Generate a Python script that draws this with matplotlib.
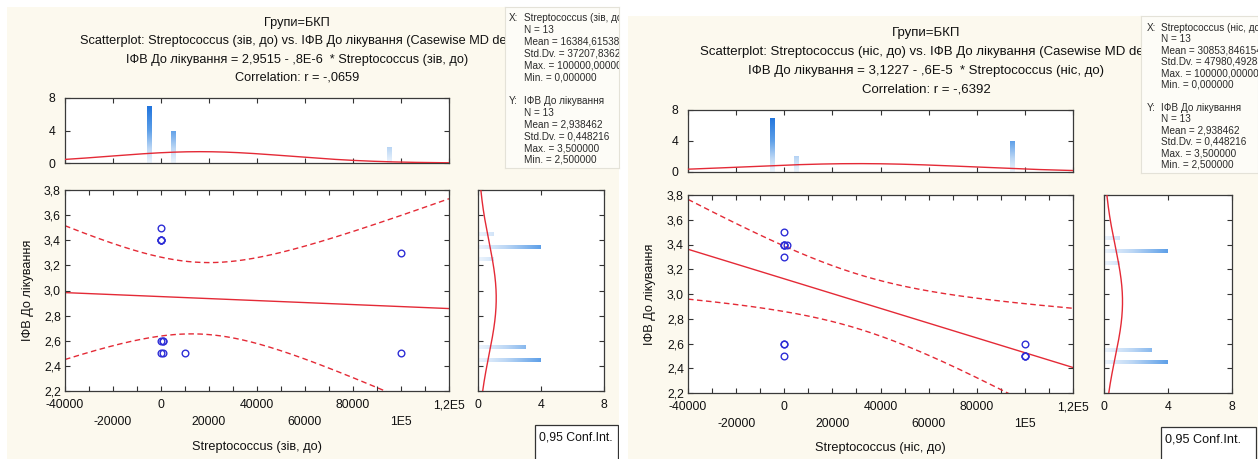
import numpy as np
import matplotlib
matplotlib.use("Agg")
import matplotlib.pyplot as plt
from matplotlib.colors import LinearSegmentedColormap
from matplotlib.ticker import FixedLocator, MultipleLocator, FuncFormatter, NullFormatter
from matplotlib.transforms import Affine2D
from matplotlib.patches import Rectangle

# ---------------- data ----------------
group_title = "Групи=БКП"
x_names = ["Streptococcus (зів, до)", "Streptococcus (ніс, до)"]
y_name = "ІФВ До лікування"
y_name_stats = "ІФВ До лікування"
scatter_titles = [
    "Scatterplot: Streptococcus (зів, до) vs. ІФВ До лікування (Casewise MD deletion)",
    "Scatterplot: Streptococcus (ніс, до) vs. ІФВ До лікування (Casewise MD deletion)",
]
equations = [
    "ІФВ До лікування = 2,9515 - ,8E-6  * Streptococcus (зів, до)",
    "ІФВ До лікування = 3,1227 - ,6E-5  * Streptococcus (ніс, до)",
]
correlations = ["Correlation: r = -,0659", "Correlation: r = -,6392"]

x_left = [0, 0, 0, 0, 0, 0, 0, 1000, 1000, 1000, 10000, 100000, 100000]
y_left = [3.5, 3.4, 3.4, 3.4, 3.4, 2.6, 2.5, 2.6, 2.6, 2.5, 2.5, 3.3, 2.5]
x_right = [0, 0, 0, 0, 0, 0, 0, 100, 1000, 100000, 100000, 100000, 100000]
y_right = [3.5, 3.4, 3.4, 3.4, 3.3, 2.6, 2.6, 2.5, 3.4, 2.6, 2.5, 2.5, 2.5]

xhist_centers = [-5000, 5000, 95000]
xhist_counts_left = [7, 4, 2]
xhist_counts_right = [7, 2, 4]
yhist_centers = [2.45, 2.55, 3.25, 3.35, 3.45]
yhist_counts = [4, 3, 1, 4, 1]

x_row1_ticks = [-40000, 0, 40000, 80000, 120000]
x_row1_labels = ["-40000", "0", "40000", "80000", "1,2E5"]
x_row2_ticks = [-20000, 20000, 60000, 100000]
x_row2_labels = ["-20000", "20000", "60000", "1E5"]
y_ticks = [2.2, 2.4, 2.6, 2.8, 3.0, 3.2, 3.4, 3.6, 3.8]
count_ticks = [0, 4, 8]
conf_label = "0,95 Conf.Int."

# ---------------- style ----------------
W, H = 1258, 459
CREAM = "#fcf9ee"
RED = "#e42a36"
BLUE = "#2e2ed6"
FS_T = 9.2      # titles / axis labels
FS_TICK = 8.8
FS_STAT = 7.2
FONT = ["Liberation Sans", "DejaVu Sans"]
plt.rcParams["font.family"] = FONT
plt.rcParams["font.size"] = FS_TICK

fig = plt.figure(figsize=(W / 100, H / 100), dpi=100, facecolor="white")
pix = Affine2D().scale(1.0 / W, -1.0 / H).translate(0, 1) + fig.transFigure

cmap = LinearSegmentedColormap.from_list(
    "bars", [(0.0, "#eef5fd"), (0.22, "#bcd7f5"), (0.5, "#5d9fe8"), (0.85, "#2477de"),
             (1.0, "#1a6ed8")])


def fbox(l, t, r, b):
    return [l / W, 1 - b / H, (r - l) / W, (b - t) / H]


def style_axes(ax):
    for s in ax.spines.values():
        s.set_color("#3a3a3a")
        s.set_linewidth(0.9)
    ax.tick_params(which="both", direction="in", top=True, right=True,
                   color="#333333", width=0.8, length=3.5, labelsize=FS_TICK,
                   labelcolor="#111111")


def grad_bar(ax, patch, vertical, vmax=8):
    x0, y0 = patch.get_x(), patch.get_y()
    w, h = patch.get_width(), patch.get_height()
    g = np.linspace(0, 1, 256)
    if vertical:
        img = g[:, None]
        ext = [x0, x0 + w, 0, vmax]
    else:
        img = g[None, :]
        ext = [0, vmax, y0, y0 + h]
    im = ax.imshow(img, extent=ext, origin="lower", aspect="auto", cmap=cmap,
                   vmin=0, vmax=1, interpolation="bilinear", zorder=1)
    im.set_clip_path(patch)


def fmt(v, d=6):
    return f"{v:.{d}f}".replace(".", ",")


layouts = [
    dict(bg=(7, 7, 619, 459), top=(65, 98, 449, 163), main=(65, 190, 449, 391),
         side=(478, 190, 604, 391), stats=(505, 7, 619, 168), conf=(535, 425, 618, 475),
         tcx=297, scx=80, ty=[23, 41, 60, 78], ylx=28, yly=290, xly=447,
         sx=509, sxi=524, sy0=18, sy1=101, sdy=11.8, fscale=1.0),
    dict(bg=(628, 16, 1258, 459), top=(688, 110, 1073, 172), main=(688, 195, 1073, 393),
         side=(1104, 195, 1232, 393), stats=(1141, 16, 1258, 173), conf=(1161, 427, 1256, 475),
         tcx=926, scx=700, ty=[33, 52, 71, 89], ylx=650, yly=294, xly=448,
         sx=1147, sxi=1161, sy0=28, sy1=108, sdy=11.3, fscale=1.035),
]

datasets = [(x_left, y_left, xhist_counts_left, 0),
            (x_right, y_right, xhist_counts_right, 1)]

T_CRIT = 2.200985  # t(0.975, df=11)

for (xd, yd, xcounts, k) in datasets:
    L = layouts[k]
    fsc = L["fscale"]
    x = np.array(xd, float)
    y = np.array(yd, float)
    n = len(x)

    # background panel
    bg = fig.add_axes(fbox(*L["bg"]), zorder=0)
    bg.set_facecolor(CREAM)
    bg.set_xticks([]); bg.set_yticks([])
    for s in bg.spines.values():
        s.set_visible(False)
    bg.set_xlim(0, 1); bg.set_ylim(0, 1)

    def btxt(px, py, s, **kw):
        t = bg.text(px, py, s, transform=pix, **kw)
        t.set_clip_on(True)
        t.set_clip_box(bg.bbox)
        return t

    ft = FS_T * fsc
    btxt(L["tcx"], L["ty"][0], group_title, ha="center", va="center", fontsize=ft, color="#111111")
    btxt(L["scx"], L["ty"][1], scatter_titles[k], ha="left", va="center", fontsize=ft, color="#111111")
    btxt(L["tcx"], L["ty"][2], equations[k], ha="center", va="center", fontsize=ft, color="#111111")
    btxt(L["tcx"], L["ty"][3], correlations[k], ha="center", va="center", fontsize=ft, color="#111111")
    btxt(L["ylx"], L["yly"], y_name, ha="center", va="center", rotation=90,
         fontsize=FS_T, color="#111111")
    m = L["main"]
    btxt((m[0] + m[2]) / 2, L["xly"], x_names[k], ha="center", va="center",
         fontsize=FS_T, color="#111111")
    c = L["conf"]
    bg.add_patch(Rectangle((c[0], c[1]), c[2] - c[0], c[3] - c[1], transform=pix,
                           facecolor="white", edgecolor="#333333", lw=0.9, clip_on=True))
    btxt(c[0] + 4, c[1] + 12, conf_label, ha="left", va="center", fontsize=FS_TICK * fsc,
         color="#111111")

    # regression
    slope, icpt = np.polyfit(x, y, 1)
    mx, my = x.mean(), y.mean()
    sxx = np.sum((x - mx) ** 2)
    resid = y - (icpt + slope * x)
    s = np.sqrt(np.sum(resid ** 2) / (n - 2))
    xs = np.linspace(-40000, 120000, 400)
    yh = icpt + slope * xs
    hw = T_CRIT * s * np.sqrt(1.0 / n + (xs - mx) ** 2 / sxx)

    # main scatter
    ax = fig.add_axes(fbox(*L["main"]), zorder=1)
    ax.set_facecolor("white")
    ax.plot(xs, yh, color=RED, lw=1.0)
    ax.plot(xs, yh + hw, color=RED, lw=1.0, ls=(0, (4, 2.5)))
    ax.plot(xs, yh - hw, color=RED, lw=1.0, ls=(0, (4, 2.5)))
    ax.plot(x, y, "o", mfc="none", mec=BLUE, ms=4.8, mew=1.0, zorder=3)
    ax.set_xlim(-40000, 120000)
    ax.set_ylim(2.2, 3.8)
    style_axes(ax)
    ax.xaxis.remove_overlapping_locs = False
    ax.xaxis.set_major_locator(MultipleLocator(10000))
    row1 = dict(zip(x_row1_ticks, x_row1_labels))
    row2 = dict(zip(x_row2_ticks, x_row2_labels))
    ax.xaxis.set_major_formatter(FuncFormatter(lambda v, p, r=row1: r.get(int(round(v)), "")))
    ax.xaxis.set_minor_locator(FixedLocator(x_row2_ticks))
    ax.xaxis.set_minor_formatter(FuncFormatter(lambda v, p, r=row2: r.get(int(round(v)), "")))
    ax.tick_params(axis="x", which="major", pad=6.0)
    ax.tick_params(axis="x", which="minor", length=0, pad=18.2, labelsize=FS_TICK)
    ax.set_yticks(y_ticks)
    ax.set_yticklabels([fmt(v, 1) for v in y_ticks])
    ax.tick_params(axis="y", pad=3.0)

    # top histogram
    axt = fig.add_axes(fbox(*L["top"]), zorder=1)
    axt.set_facecolor("white")
    bars = axt.bar(xhist_centers, xcounts, width=2000, color="none", edgecolor="none")
    for p in bars.patches:
        grad_bar(axt, p, vertical=True)
    sx = x.std(ddof=1)
    xc = np.linspace(-40000, 120000, 400)
    axt.plot(xc, n * 10000 * np.exp(-0.5 * ((xc - mx) / sx) ** 2) / (sx * np.sqrt(2 * np.pi)),
             color=RED, lw=1.0, zorder=3)
    axt.set_xlim(-40000, 120000)
    axt.set_ylim(0, 8)
    style_axes(axt)
    axt.set_xticks(np.arange(-40000, 120001, 20000))
    axt.xaxis.set_major_formatter(NullFormatter())
    axt.set_yticks(count_ticks)
    axt.set_yticklabels([str(v) for v in count_ticks])
    axt.tick_params(axis="y", pad=7)

    # side histogram
    axs = fig.add_axes(fbox(*L["side"]), zorder=1)
    axs.set_facecolor("white")
    hb = axs.barh(yhist_centers, yhist_counts, height=0.032, color="none", edgecolor="none")
    for p in hb.patches:
        grad_bar(axs, p, vertical=False)
    sy = y.std(ddof=1)
    yc = np.linspace(2.2, 3.8, 300)
    axs.plot(n * 0.1 * np.exp(-0.5 * ((yc - my) / sy) ** 2) / (sy * np.sqrt(2 * np.pi)), yc,
             color=RED, lw=1.0, zorder=3)
    axs.set_xlim(0, 8)
    axs.set_ylim(2.2, 3.8)
    style_axes(axs)
    axs.set_yticks(y_ticks)
    axs.yaxis.set_major_formatter(NullFormatter())
    axs.set_xticks(count_ticks)
    axs.set_xticklabels([str(v) for v in count_ticks])
    axs.tick_params(axis="x", pad=6.0)

    # stats box
    st = fig.add_axes(fbox(*L["stats"]), zorder=2)
    st.set_facecolor("#fdfcf7")
    st.set_xticks([]); st.set_yticks([])
    for sp in st.spines.values():
        sp.set_color("#e4e2d8")
        sp.set_linewidth(0.8)

    def stxt(px, py, s_):
        t = st.text(px, py, s_, transform=pix, ha="left", va="center",
                    fontsize=FS_STAT, color="#2a2a2a")
        t.set_clip_on(True)
        t.set_clip_box(st.bbox)

    xblock = [x_names[k], f"N = {n}", f"Mean = {fmt(mx)}", f"Std.Dv. = {fmt(sx)}",
              f"Max. = {fmt(x.max())}", f"Min. = {fmt(x.min())}"]
    yblock = [y_name_stats, f"N = {n}", f"Mean = {fmt(my)}", f"Std.Dv. = {fmt(sy)}",
              f"Max. = {fmt(y.max())}", f"Min. = {fmt(y.min())}"]
    stxt(L["sx"], L["sy0"], "X:")
    stxt(L["sx"], L["sy1"], "Y:")
    for i, s_ in enumerate(xblock):
        stxt(L["sxi"], L["sy0"] + i * L["sdy"], s_)
    for i, s_ in enumerate(yblock):
        stxt(L["sxi"], L["sy1"] + i * L["sdy"], s_)

fig.savefig("out.png", dpi=100, facecolor="white")
